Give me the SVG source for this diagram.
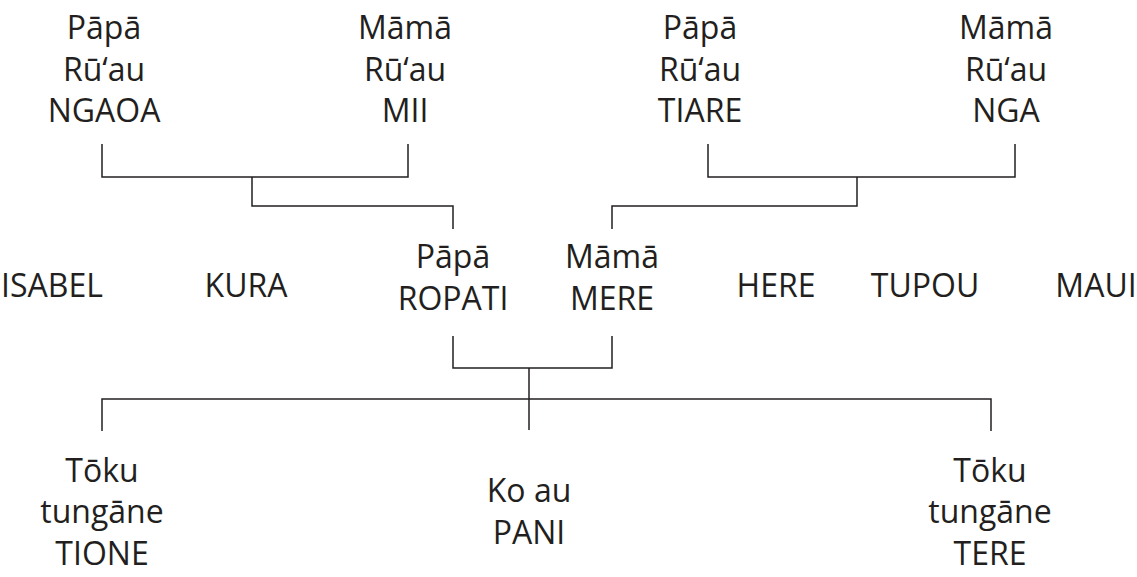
<svg xmlns="http://www.w3.org/2000/svg" width="1137" height="577" viewBox="0 0 1137 577">
<style>
text{font-family:"Open Sans","Noto Sans","DejaVu Sans",sans-serif;font-size:32px;fill:#231f20;text-anchor:middle}
.c{fill:none;stroke:#231f20;stroke-width:1.5}
</style>
<rect width="1137" height="577" fill="#fff"/>
<g id="connectors" class="c">
<polyline points="102,144 102,177 408,177 408,144"/>
<polyline points="252,177 252,206 453,206 453,229"/>
<polyline points="708,144 708,177 1015,177 1015,144"/>
<polyline points="857,177 857,206 612,206 612,229"/>
<polyline points="453,336 453,368 612,368 612,336"/>
<line x1="529" y1="368" x2="529" y2="430"/>
<polyline points="102,431 102,399 991,399 991,431"/>
</g>
<g id="n-ngaoa"><text x="104" y="39">Pāpā</text><text x="104" y="81">Rū‘au</text><text x="104" y="122">NGAOA</text></g>
<g id="n-mii"><text x="405" y="39">Māmā</text><text x="405" y="81">Rū‘au</text><text x="405" y="122">MII</text></g>
<g id="n-tiare"><text x="700" y="39">Pāpā</text><text x="700" y="81">Rū‘au</text><text x="700" y="122">TIARE</text></g>
<g id="n-nga"><text x="1006" y="39">Māmā</text><text x="1006" y="81">Rū‘au</text><text x="1006" y="122">NGA</text></g>
<g id="n-isabel"><text x="52" y="297">ISABEL</text></g>
<g id="n-kura"><text x="246" y="297">KURA</text></g>
<g id="n-ropati"><text x="453" y="268">Pāpā</text><text x="453" y="310">ROPATI</text></g>
<g id="n-mere"><text x="612" y="268">Māmā</text><text x="612" y="310">MERE</text></g>
<g id="n-here"><text x="776" y="297">HERE</text></g>
<g id="n-tupou"><text x="925" y="297">TUPOU</text></g>
<g id="n-maui"><text x="1096" y="297">MAUI</text></g>
<g id="n-tione"><text x="102" y="482">Tōku</text><text x="102" y="523">tungāne</text><text x="102" y="565">TIONE</text></g>
<g id="n-pani"><text x="529" y="502">Ko au</text><text x="529" y="544">PANI</text></g>
<g id="n-tere"><text x="990" y="482">Tōku</text><text x="990" y="523">tungāne</text><text x="990" y="565">TERE</text></g>
</svg>
